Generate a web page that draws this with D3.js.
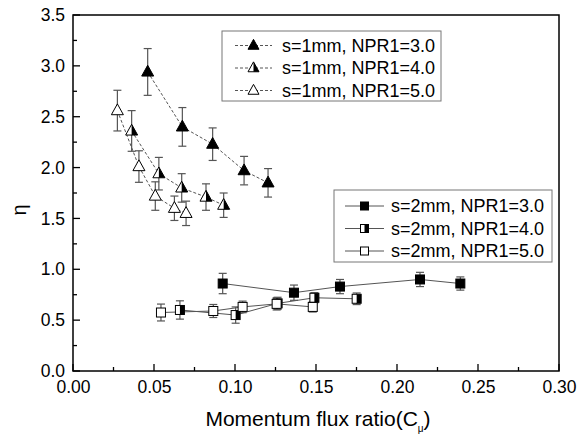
<!DOCTYPE html>
<html><head><meta charset="utf-8">
<script src="https://cdn.jsdelivr.net/npm/d3@7"></script>
<style>body{margin:0;background:#fff;} svg{font-family:Arial,"Liberation Sans",sans-serif;}</style>
</head><body><svg id="c" width="585" height="438"></svg>
<script>
// ---- data ----
const xTicks = [0.00, 0.05, 0.10, 0.15, 0.20, 0.25, 0.30];
const yTicks = [0.0, 0.5, 1.0, 1.5, 2.0, 2.5, 3.0, 3.5];

const s1n3_x = [0.0461, 0.0675, 0.0862, 0.1056, 0.1204];
const s1n3_y = [2.94, 2.40, 2.23, 1.97, 1.85];
const s1n3_e = [0.23, 0.19, 0.16, 0.14, 0.14];

const s1n4_x = [0.0362, 0.0530, 0.0671, 0.0821, 0.0930];
const s1n4_y = [2.36, 1.94, 1.80, 1.71, 1.63];
const s1n4_e = [0.20, 0.16, 0.14, 0.13, 0.12];

const s1n5_x = [0.0274, 0.0407, 0.0508, 0.0626, 0.0698];
const s1n5_y = [2.56, 2.01, 1.72, 1.60, 1.55];
const s1n5_e = [0.20, 0.155, 0.14, 0.12, 0.12];

const s2n3_x = [0.0924, 0.1364, 0.1648, 0.2142, 0.2391];
const s2n3_y = [0.86, 0.77, 0.83, 0.90, 0.86];
const s2n3_e = [0.10, 0.075, 0.07, 0.07, 0.065];

const s2n4_x = [0.0660, 0.1004, 0.1263, 0.1490, 0.1751];
const s2n4_y = [0.60, 0.55, 0.665, 0.72, 0.71];
const s2n4_e = [0.09, 0.08, 0.06, 0.05, 0.057];

const s2n5_x = [0.0543, 0.0866, 0.1047, 0.1257, 0.1480];
const s2n5_y = [0.575, 0.59, 0.63, 0.66, 0.63];
const s2n5_e = [0.083, 0.064, 0.057, 0.06, 0.05];

const labels = ["s=1mm, NPR1=3.0","s=1mm, NPR1=4.0","s=1mm, NPR1=5.0",
                "s=2mm, NPR1=3.0","s=2mm, NPR1=4.0","s=2mm, NPR1=5.0"];

const series = [
  {x:s1n3_x,y:s1n3_y,e:s1n3_e,shape:"tri",fill:"full",dash:true},
  {x:s1n4_x,y:s1n4_y,e:s1n4_e,shape:"tri",fill:"half",dash:true},
  {x:s1n5_x,y:s1n5_y,e:s1n5_e,shape:"tri",fill:"none",dash:true},
  {x:s2n3_x,y:s2n3_y,e:s2n3_e,shape:"sq",fill:"full",dash:false},
  {x:s2n4_x,y:s2n4_y,e:s2n4_e,shape:"sq",fill:"half",dash:false},
  {x:s2n5_x,y:s2n5_y,e:s2n5_e,shape:"sq",fill:"none",dash:false}
];

// ---- layout ----
const L=73, R=559, T=15, B=371;
const svg = d3.select("#c");
const x = d3.scaleLinear().domain([0,0.30]).range([L,R]);
const y = d3.scaleLinear().domain([0,3.5]).range([B,T]);

// axes
const xAxis = d3.axisBottom(x).tickValues(xTicks).tickFormat(d3.format(".2f")).tickSize(0).tickPadding(10);
const yAxis = d3.axisLeft(y).tickValues(yTicks).tickFormat(d3.format(".1f")).tickSize(0).tickPadding(8);
const gx = svg.append("g").attr("transform",`translate(0,${B})`).call(xAxis);
const gy = svg.append("g").attr("transform",`translate(${L},0)`).call(yAxis);
[gx,gy].forEach(g=>{g.select(".domain").remove(); g.selectAll("text").attr("font-size",17.5).attr("fill","#000").attr("font-family","Arial, 'Liberation Sans', sans-serif");});

// inward ticks
const xMinor = d3.range(0,0.3001,0.025);
svg.append("g").selectAll("line").data(xMinor).join("line")
  .attr("x1",d=>x(d)).attr("x2",d=>x(d)).attr("y1",B)
  .attr("y2",(d,i)=> B-(i%2===0?7:4)).attr("stroke","#000").attr("stroke-width",1.3);
const yMinor = d3.range(0,3.5001,0.25);
svg.append("g").selectAll("line").data(yMinor).join("line")
  .attr("y1",d=>y(d)).attr("y2",d=>y(d)).attr("x1",L)
  .attr("x2",(d,i)=> L+(i%2===0?7:4)).attr("stroke","#000").attr("stroke-width",1.3);

// frame
svg.append("rect").attr("x",L).attr("y",T).attr("width",R-L).attr("height",B-T)
  .attr("fill","none").attr("stroke","#000").attr("stroke-width",1.5);

// marker drawing
function marker(g, cx, cy, shape, fill, sz){
  if(shape==="tri"){
    const s=sz||12, h=s*0.9;
    const top=[cx,cy-h*0.62], bl=[cx-s/2,cy+h*0.38], br=[cx+s/2,cy+h*0.38];
    g.append("path").attr("d",`M${top}L${br}L${bl}Z`)
      .attr("fill",fill==="full"?"#000":"#fff").attr("stroke","#000").attr("stroke-width",1);
    if(fill==="half") g.append("path").attr("d",`M${top}L${br}L${cx},${br[1]}Z`).attr("fill","#000");
  } else {
    const s=sz||9;
    g.append("rect").attr("x",cx-s/2).attr("y",cy-s/2).attr("width",s).attr("height",s)
      .attr("fill",fill==="full"?"#000":"#fff").attr("stroke","#000").attr("stroke-width",1);
    if(fill==="half") g.append("rect").attr("x",cx).attr("y",cy-s/2).attr("width",s/2).attr("height",s).attr("fill","#000");
  }
}

const line = d3.line().x(d=>x(d[0])).y(d=>y(d[1]));
const plot = svg.append("g");
series.forEach(s=>{
  const pts = s.x.map((v,i)=>[v,s.y[i],s.e[i]]);
  plot.append("path").attr("d",line(pts)).attr("fill","none")
    .attr("stroke","#555").attr("stroke-width",1)
    .attr("stroke-dasharray",s.dash?"3,2":null);
});
series.forEach(s=>{
  const pts = s.x.map((v,i)=>[v,s.y[i],s.e[i]]);
  const g = plot.append("g").attr("stroke","#555").attr("stroke-width",1.2);
  pts.forEach(p=>{
    const cx=x(p[0]), y1=y(p[1]+p[2]), y2=y(p[1]-p[2]);
    g.append("line").attr("x1",cx).attr("x2",cx).attr("y1",y1).attr("y2",y2);
    g.append("line").attr("x1",cx-4).attr("x2",cx+4).attr("y1",y1).attr("y2",y1);
    g.append("line").attr("x1",cx-4).attr("x2",cx+4).attr("y1",y2).attr("y2",y2);
  });
});
series.forEach(s=>{
  const g = plot.append("g");
  s.x.forEach((v,i)=> marker(g, x(v), y(s.y[i]), s.shape, s.fill));
});

// legends
function legend(bx, by, bw, bh, idxs, rowY0){
  const g = svg.append("g");
  g.append("rect").attr("x",bx).attr("y",by).attr("width",bw).attr("height",bh)
    .attr("fill","#fff").attr("stroke","#777").attr("stroke-width",1);
  idxs.forEach((k,j)=>{
    const s=series[k], ry=rowY0+j*22.5;
    const lx1 = s.dash?235:345, lx2 = s.dash?272:384, mx=(lx1+lx2)/2, tx = s.dash?282:391;
    g.append("line").attr("x1",lx1).attr("x2",lx2).attr("y1",ry).attr("y2",ry)
      .attr("stroke","#555").attr("stroke-width",1).attr("stroke-dasharray",s.dash?"3,2":null);
    marker(g, mx, ry, s.shape, s.fill, s.shape==="tri"?11:8);
    g.append("text").attr("x",tx).attr("y",ry).attr("dy","0.35em").attr("font-size",18).text(labels[k]);
  });
}
legend(222, 31, 219, 70, [0,1,2], 45.5);
legend(334, 190, 218, 72, [3,4,5], 206);

// axis titles
const xt = svg.append("text").attr("x",318).attr("y",426).attr("text-anchor","middle").attr("font-size",21);
xt.append("tspan").text("Momentum flux ratio(C");
xt.append("tspan").attr("font-size",10).attr("dy",6).text("μ");
xt.append("tspan").attr("dy",-6).text(")");
svg.append("text").attr("transform","translate(26,210) rotate(-90)").attr("text-anchor","middle")
  .attr("font-size",20).text("η");
</script></body></html>
